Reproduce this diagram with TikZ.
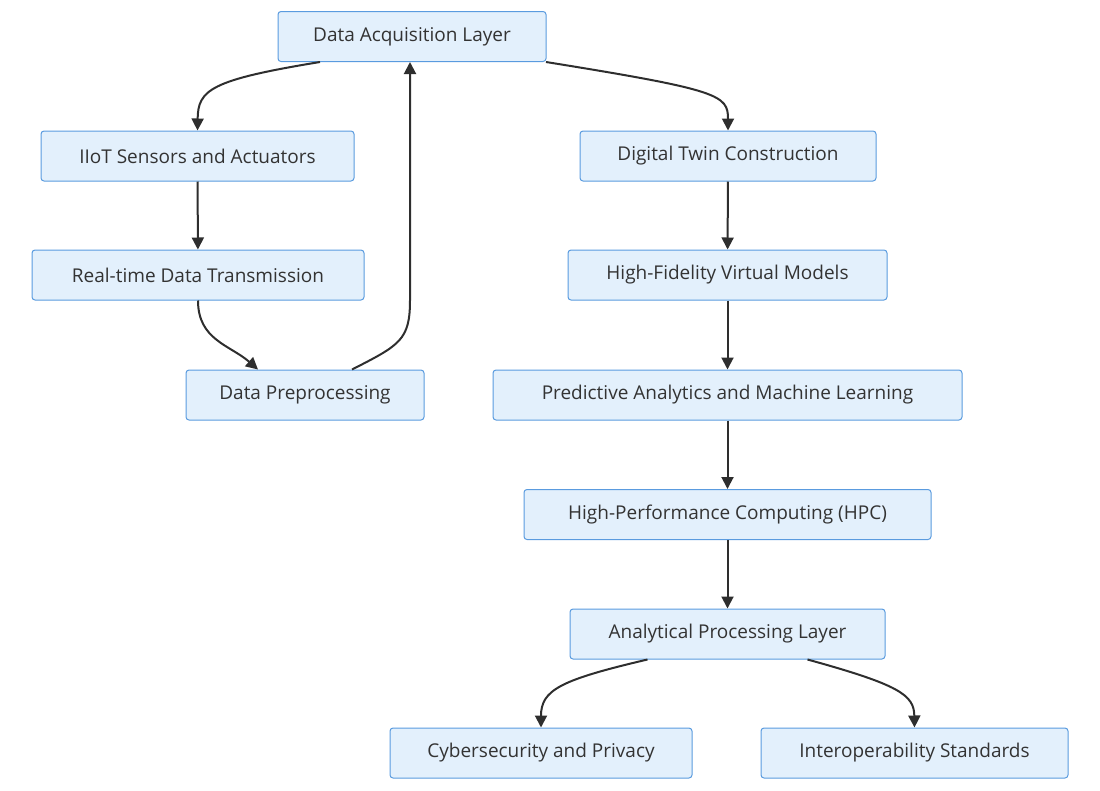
\documentclass[tikz,border=0pt]{standalone}
\usepackage{fontspec}
\setmainfont{Open Sans}
\usetikzlibrary{calc,arrows.meta}
\definecolor{boxfill}{HTML}{E3F0FC}
\definecolor{boxdraw}{HTML}{5A9BDF}
\definecolor{txt}{HTML}{333333}
\begin{document}
\begin{tikzpicture}[x=1pt,y=-1pt,
 box/.style={draw=boxdraw,fill=boxfill,rounded corners=3pt,line width=1pt,inner sep=0pt,text=txt,font=\fontsize{19}{22}\selectfont,minimum height=50pt},
 arr/.style={draw=txt!90!black,line width=2pt,-{Triangle[length=12pt,width=12pt]}}]
\useasboundingbox (0,0) rectangle (1100,790);
\node[box,minimum width=268pt] (acq) at (412,36.5) {Data Acquisition Layer};
\node[box,minimum width=313pt] (iiot) at (197.5,156) {IIoT Sensors and Actuators};
\node[box,minimum width=332pt] (rt) at (198,275) {Real-time Data Transmission};
\node[box,minimum width=238pt] (pre) at (305,395) {Data Preprocessing};
\node[box,minimum width=296pt] (dt) at (728,156) {Digital Twin Construction};
\node[box,minimum width=319pt] (hf) at (727.5,275) {High-Fidelity Virtual Models};
\node[box,minimum width=469pt] (pa) at (727.5,395) {Predictive Analytics and Machine Learning};
\node[box,minimum width=407pt] (hpc) at (727.5,514.5) {High-Performance Computing (HPC)};
\node[box,minimum width=315pt] (apl) at (727.5,634) {Analytical Processing Layer};
\node[box,minimum width=302pt] (cy) at (541,753) {Cybersecurity and Privacy};
\node[box,minimum width=307pt] (io) at (914.5,753) {Interoperability Standards};
\draw[arr] ($(acq.south)+(-92,0)$) .. controls (210,80) and (198,90) .. (iiot.north);
\draw[arr] ($(acq.south)+(134,0)$) .. controls (720,90) and (728,95) .. (dt.north);
\draw[arr] (iiot) -- (rt);
\draw[arr] (rt.south) .. controls (198,340) and (230,345) .. ($(pre.north)+(-47,0)$);
\draw[arr] ($(pre.north)+(47,0)$) .. controls (400,345) and (410,340) .. (410,300) -- ($(acq.south)+(-2,0)$);
\draw[arr] (dt) -- (hf);
\draw[arr] (hf) -- (pa);
\draw[arr] (pa) -- (hpc);
\draw[arr] (hpc) -- (apl);
\draw[arr] ($(apl.south)+(-80,0)$) .. controls (560,680) and (541,690) .. (cy.north);
\draw[arr] ($(apl.south)+(80,0)$) .. controls (900,685) and (914,695) .. (io.north);
\end{tikzpicture}
\end{document}
